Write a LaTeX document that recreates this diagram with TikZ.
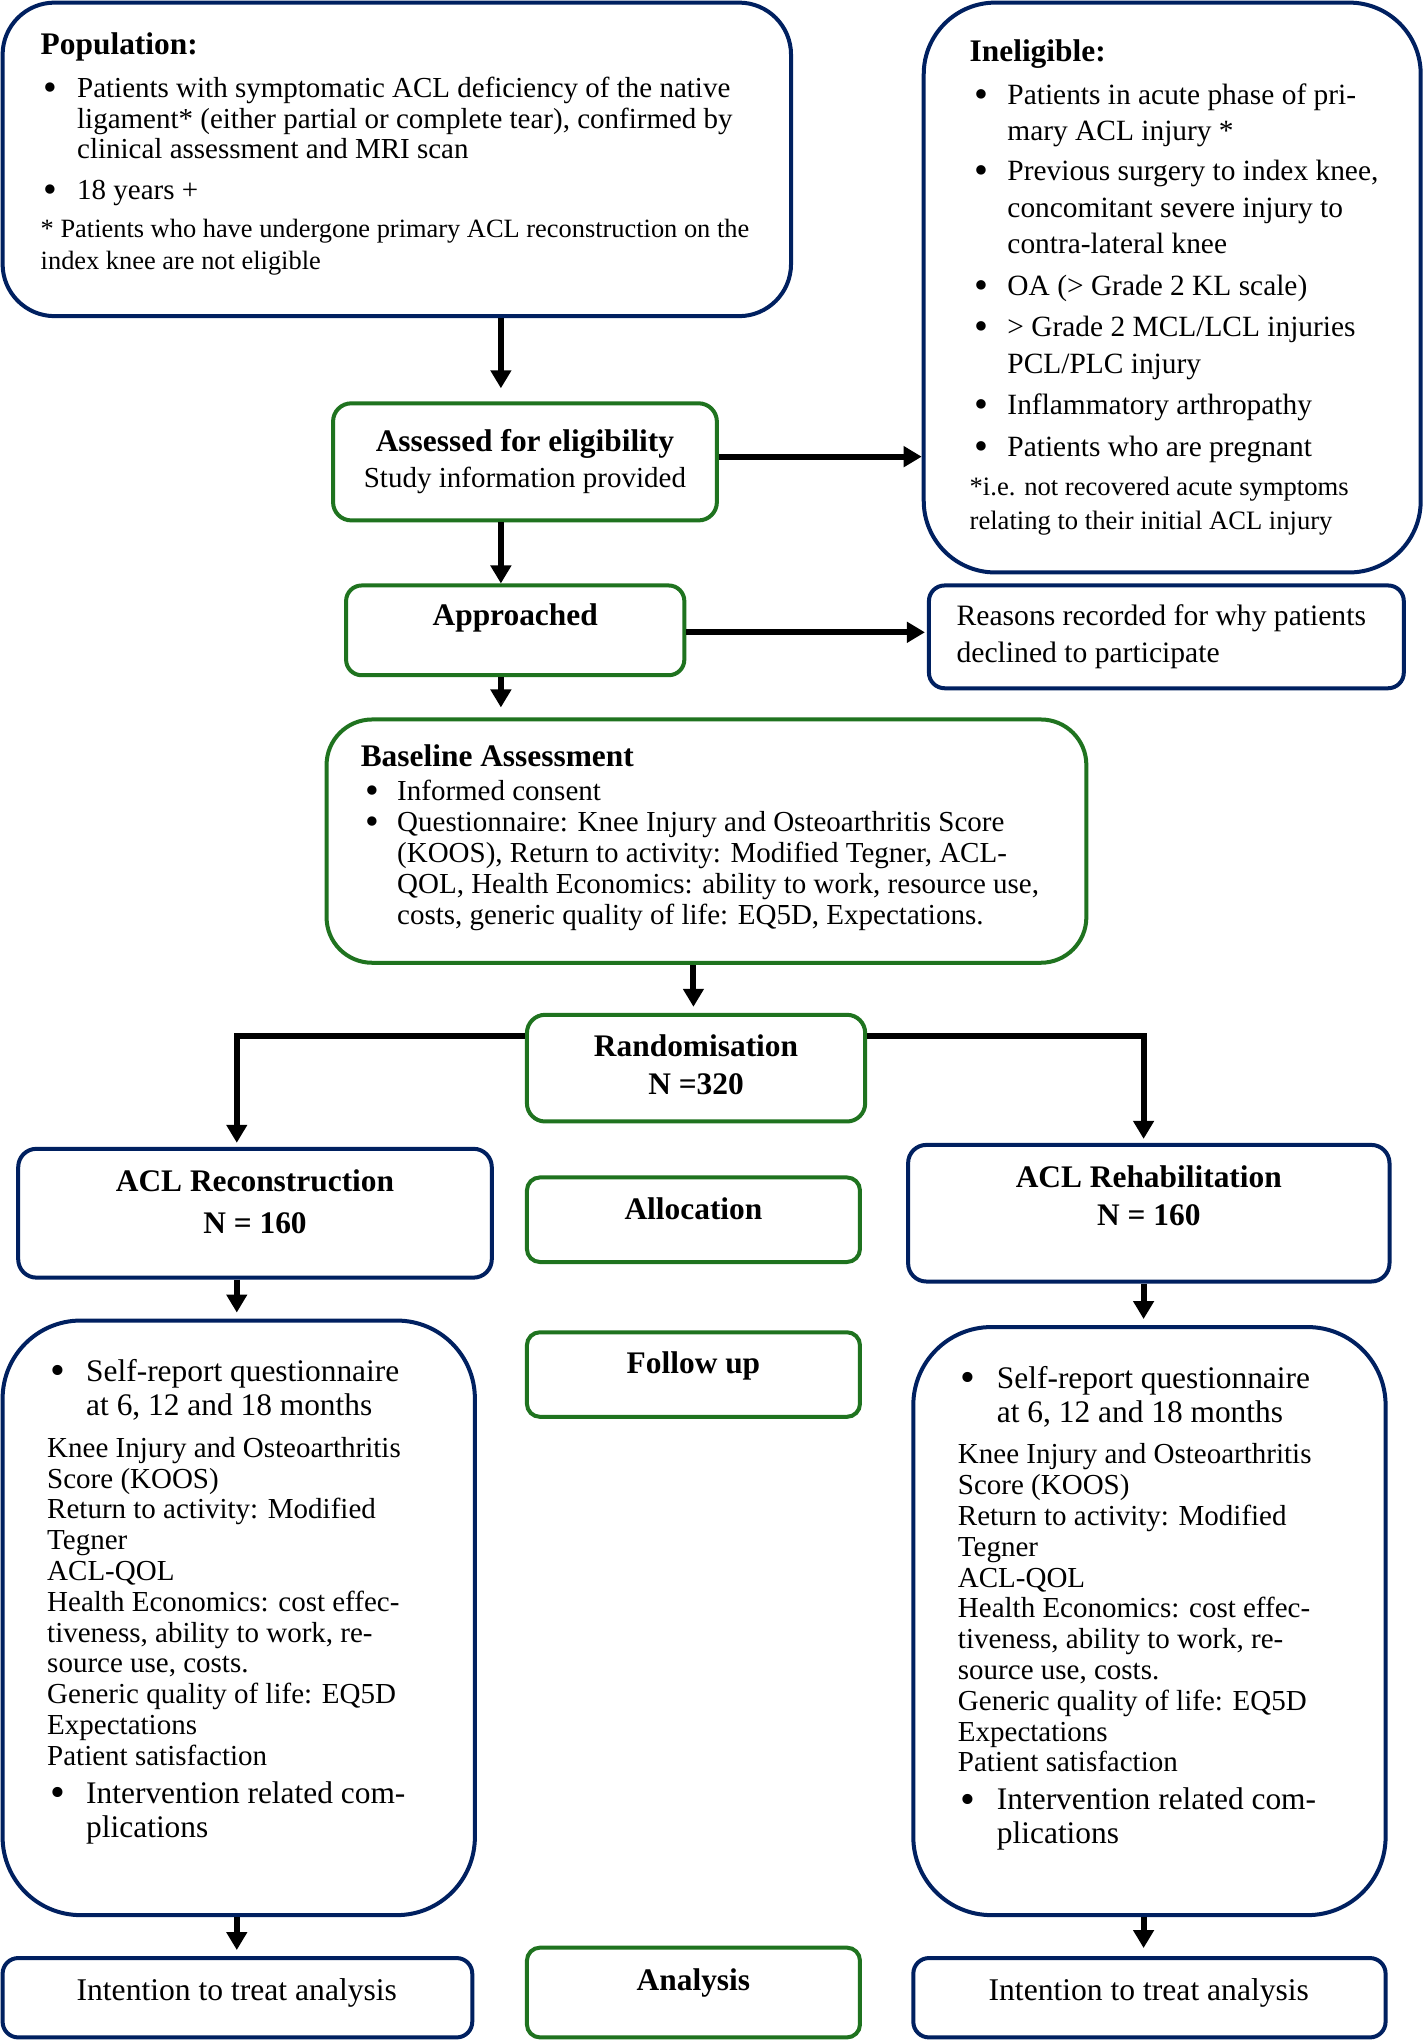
\documentclass[tikz,border=0pt]{standalone}
\usepackage{fontspec}
\usepackage{graphicx}
\setmainfont{Liberation Serif}
\usetikzlibrary{arrows.meta}
\definecolor{navy}{RGB}{0,32,96}
\definecolor{grn}{RGB}{31,115,31}
\newdimen\ux \ux=0.6505pt
\newcommand\fs[2]{\fontsize{#1}{#2}\selectfont}
\newcommand\bul[2]{\makebox[#1][l]{\hspace*{#2}\smash{\raisebox{-0.1em}{\scalebox{1.35}{\textbullet}}}}}
\newcommand\ind[1]{\hspace*{#1}}
\begin{document}
\begin{tikzpicture}[x=0.6505pt,y=-0.6505pt,
  bbox/.style={draw=navy,line width=2pt,fill=white,inner sep=0pt},
  gbox/.style={draw=grn,line width=2pt,fill=white,inner sep=0pt},
  txt/.style={inner sep=0pt,anchor=base west},
  ctxt/.style={inner sep=0pt,anchor=base},
  arr/.style={line width=3pt,-{Triangle[length=9pt,width=10pt]}},
]
\useasboundingbox[fill=white] (0,0) rectangle (1093,1568);

% boxes
\node[bbox,rounded corners=40\ux,minimum width=606\ux,minimum height=241\ux] (pop) at (305,122.5) {};
\node[bbox,rounded corners=55\ux,minimum width=382\ux,minimum height=438\ux] (inel) at (901,221) {};
\node[gbox,rounded corners=14\ux,minimum width=295\ux,minimum height=90\ux] (assess) at (403.5,355) {};
\node[gbox,rounded corners=12\ux,minimum width=260\ux,minimum height=69\ux] (appr) at (396,484.5) {};
\node[bbox,rounded corners=12\ux,minimum width=365\ux,minimum height=79\ux] (reasons) at (896.5,489.5) {};
\node[gbox,rounded corners=35\ux,minimum width=584\ux,minimum height=187\ux] (base) at (543,646.5) {};
\node[gbox,rounded corners=14\ux,minimum width=260\ux,minimum height=82\ux] (rand) at (535,821) {};
\node[bbox,rounded corners=14\ux,minimum width=364\ux,minimum height=99\ux] (recon) at (196,932.5) {};
\node[gbox,rounded corners=10\ux,minimum width=256\ux,minimum height=65\ux] (alloc) at (533,937.5) {};
\node[bbox,rounded corners=14\ux,minimum width=370\ux,minimum height=105\ux] (rehab) at (883,932.5) {};
\node[gbox,rounded corners=10\ux,minimum width=256\ux,minimum height=65\ux] (follow) at (533,1056.5) {};
\node[bbox,rounded corners=60\ux,minimum width=363\ux,minimum height=457\ux] (fuL) at (183.5,1243.5) {};
\node[bbox,rounded corners=60\ux,minimum width=363\ux,minimum height=452\ux] (fuR) at (883.5,1246) {};
\node[bbox,rounded corners=12\ux,minimum width=361\ux,minimum height=61\ux] (ittL) at (182.5,1535.5) {};
\node[gbox,rounded corners=10\ux,minimum width=256\ux,minimum height=69\ux] (analysis) at (533,1531.5) {};
\node[bbox,rounded corners=12\ux,minimum width=363\ux,minimum height=61\ux] (ittR) at (883.5,1535.5) {};

% texts
\node[txt] (popT) at (31,42) {\fs{14.5}{15.3}\begin{tabular}[t]{@{}l@{}}
{\fs{15.7}{15.3}\bfseries Population:}\\[6.2pt]
\bul{18.2pt}{1.5pt}Patients with symptomatic ACL deficiency of the native\\
\ind{18.2pt}ligament* (either partial or complete tear), confirmed by\\
\ind{18.2pt}clinical assessment and MRI scan\\[4.9pt]
\bul{18.2pt}{1.5pt}18 years +\\[3.6pt]
{\fs{13.2}{15}* Patients who have undergone primary ACL reconstruction on the}\\[1pt]
{\fs{13.2}{15}index knee are not eligible}
\end{tabular}};

\node[txt] (inelT) at (745,47) {\fs{14.7}{18.2}\begin{tabular}[t]{@{}l@{}}
{\fs{15.7}{18.2}\bfseries Ineligible:}\\[3.3pt]
\bul{18.9pt}{2.5pt}Patients in acute phase of pri-\\
\ind{18.9pt}mary ACL injury *\\[2pt]
\bul{18.9pt}{2.5pt}Previous surgery to index knee,\\
\ind{18.9pt}concomitant severe injury to\\
\ind{18.9pt}contra-lateral knee\\[2.6pt]
\bul{18.9pt}{2.5pt}OA (> Grade 2 KL scale)\\[2.6pt]
\bul{18.9pt}{2.5pt}> Grade 2 MCL/LCL injuries\\
\ind{18.9pt}PCL/PLC injury\\[2.6pt]
\bul{18.9pt}{2.5pt}Inflammatory arthropathy\\[2.6pt]
\bul{18.9pt}{2.5pt}Patients who are pregnant\\[1.3pt]
{\fs{13.3}{15}*i.e. not recovered acute symptoms}\\[-1.3pt]
{\fs{13.3}{15}relating to their initial ACL injury}
\end{tabular}};

\node[ctxt] (assessT) at (403.5,347) {\fs{14.5}{18.2}\begin{tabular}[t]{@{}c@{}}
{\fs{15.7}{18.2}\bfseries Assessed for eligibility}\\
Study information provided
\end{tabular}};

\node[ctxt] (apprT) at (396,481) {\fs{15.7}{18}\bfseries Approached};

\node[txt] (reasonsT) at (735,481) {\fs{14.8}{18.2}\begin{tabular}[t]{@{}l@{}}
Reasons recorded for why patients\\
declined to participate
\end{tabular}};

\node[txt] (baseT) at (277,589) {\fs{14.5}{15.6}\begin{tabular}[t]{@{}l@{}}
{\fs{15.7}{15.6}\bfseries Baseline Assessment}\\[1.3pt]
\bul{18.2pt}{2.5pt}Informed consent\\
\bul{18.2pt}{2.5pt}Questionnaire: Knee Injury and Osteoarthritis Score\\
\ind{18.2pt}(KOOS), Return to activity: Modified Tegner, ACL-\\
\ind{18.2pt}QOL, Health Economics: ability to work, resource use,\\
\ind{18.2pt}costs, generic quality of life: EQ5D, Expectations.
\end{tabular}};

\node[ctxt] (randT) at (535,812) {\fs{15.7}{18.9}\bfseries\begin{tabular}[t]{@{}c@{}}
Randomisation\\ N =320
\end{tabular}};

\node[ctxt] (reconT) at (196,916) {\fs{15.7}{20.8}\bfseries\begin{tabular}[t]{@{}c@{}}
ACL Reconstruction\\ N = 160
\end{tabular}};

\node[ctxt] (allocT) at (533,937) {\fs{15.7}{18}\bfseries Allocation};

\node[ctxt] (rehabT) at (883,913) {\fs{15.7}{18.9}\bfseries\begin{tabular}[t]{@{}c@{}}
ACL Rehabilitation\\ N = 160
\end{tabular}};

\node[ctxt] (followT) at (533,1056) {\fs{15.7}{18}\bfseries Follow up};

\node[txt] (fuLT) at (36,1062) {\fs{14.5}{15.4}\begin{tabular}[t]{@{}l@{}}
{\fs{15.7}{16.9}\bul{19.5pt}{1.5pt}Self-report questionnaire}\\[1.5pt]
{\fs{15.7}{16.9}\ind{19.5pt}at 6, 12 and 18 months}\\[5.4pt]
Knee Injury and Osteoarthritis\\
Score (KOOS)\\
Return to activity: Modified\\
Tegner\\
ACL-QOL\\
Health Economics: cost effec-\\
tiveness, ability to work, re-\\
source use, costs.\\
Generic quality of life: EQ5D\\
Expectations\\
Patient satisfaction\\[3.5pt]
{\fs{15.7}{16.9}\bul{19.5pt}{1.5pt}Intervention related com-}\\[1.5pt]
{\fs{15.7}{16.9}\ind{19.5pt}plications}
\end{tabular}};

\node[txt] (fuRT) at (736,1067) {\fs{14.5}{15.4}\begin{tabular}[t]{@{}l@{}}
{\fs{15.7}{16.9}\bul{19.5pt}{1.5pt}Self-report questionnaire}\\[1.5pt]
{\fs{15.7}{16.9}\ind{19.5pt}at 6, 12 and 18 months}\\[5.4pt]
Knee Injury and Osteoarthritis\\
Score (KOOS)\\
Return to activity: Modified\\
Tegner\\
ACL-QOL\\
Health Economics: cost effec-\\
tiveness, ability to work, re-\\
source use, costs.\\
Generic quality of life: EQ5D\\
Expectations\\
Patient satisfaction\\[3.5pt]
{\fs{15.7}{16.9}\bul{19.5pt}{1.5pt}Intervention related com-}\\[1.5pt]
{\fs{15.7}{16.9}\ind{19.5pt}plications}
\end{tabular}};

\node[ctxt] (ittLT) at (182,1538) {\fs{15.8}{18}Intention to treat analysis};
\node[ctxt] (analysisT) at (533,1530) {\fs{15.7}{18}\bfseries Analysis};
\node[ctxt] (ittRT) at (883,1538) {\fs{15.8}{18}Intention to treat analysis};

% helper coordinates
\coordinate (xa) at (385,0);
\coordinate (xb) at (533,0);
\coordinate (xl) at (182,0);
\coordinate (xr) at (879,0);
\coordinate (ya) at (0,351);
\coordinate (yb) at (0,486);
\coordinate (yr) at (0,796);

% connectors
\draw[arr,shorten >=6.5pt] (pop.south -| xa) -- (assess.north -| xa);
\draw[arr] (assess.east |- ya) -- (inel.west |- ya);
\draw[arr] (assess.south -| xa) -- (appr.north -| xa);
\draw[arr,shorten >=1pt] (appr.east |- yb) -- (reasons.west |- yb);
\draw[arr,shorten >=5pt] (appr.south -| xa) -- (base.north -| xa);
\draw[arr,shorten >=3pt] (base.south -| xb) -- (rand.north -| xb);
\draw[arr,shorten >=2pt] (rand.west |- yr) -| (xl |- recon.north);
\draw[arr,shorten >=2pt] (rand.east |- yr) -| (xr |- rehab.north);
\draw[arr,shorten >=3pt] (recon.south -| xl) -- (fuL.north -| xl);
\draw[arr,shorten >=3pt] (rehab.south -| xr) -- (fuR.north -| xr);
\draw[arr,shorten >=3pt] (fuL.south -| xl) -- (ittL.north -| xl);
\draw[arr,shorten >=4pt] (fuR.south -| xr) -- (ittR.north -| xr);
\end{tikzpicture}
\end{document}
